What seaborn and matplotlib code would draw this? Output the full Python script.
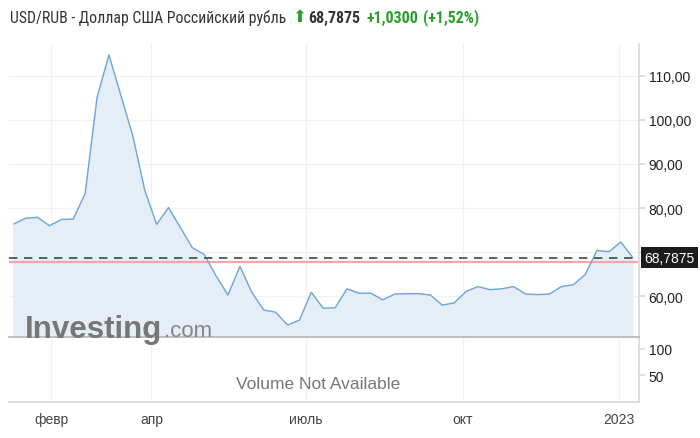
import numpy as np
import pandas as pd
import matplotlib
matplotlib.use('Agg')
import matplotlib.pyplot as plt
import matplotlib.transforms as mtransforms
import seaborn as sns

# weekly USD/RUB closes
dates = pd.date_range('2022-01-10', periods=53, freq='7D')
close = [76.4, 77.7, 77.9, 76.0, 77.4, 77.5, 83.3, 105.1, 114.7, 105.5,
         96.4, 84.1, 76.3, 80.1, 75.6, 71.0, 69.5, 64.6, 60.3, 66.8,
         60.9, 56.9, 56.4, 53.5, 54.6, 60.9, 57.3, 57.4, 61.7, 60.7,
         60.7, 59.2, 60.5, 60.6, 60.6, 60.3, 58.0, 58.5, 61.1, 62.2,
         61.5, 61.7, 62.2, 60.5, 60.4, 60.5, 62.2, 62.6, 64.9, 70.4,
         70.1, 72.3, 68.7875]
last_price = 68.7875
prev_close = 67.7575

price_ticks = [60, 70, 80, 90, 100, 110]
price_labels = ['60,00', '', '80,00', '90,00', '100,00', '110,00']
vol_ticks = [50, 100]
month_ticks = pd.to_datetime(['2022-02-01', '2022-04-01', '2022-07-01', '2022-10-01', '2023-01-01'])
month_labels = ['февр', 'апр', 'июль', 'окт', '2023']

df = pd.DataFrame({'date': dates, 'close': close})

sns.set_theme(style='white')
plt.rcParams['font.family'] = ['Liberation Sans', 'DejaVu Sans']

W, H = 700, 439
fig = plt.figure(figsize=(W / 100, H / 100), dpi=100)
axv = fig.add_axes([9 / W, 1 - 403 / H, 630 / W, 65 / H])
ax = fig.add_axes([9 / W, 1 - 338 / H, 630 / W, 293 / H], sharex=axv)
ax.patch.set_alpha(0)
axv.patch.set_alpha(0)

line_col = '#6fa6d9'
grid_col = '#f1f1f1'
axis_col = '#d9d9d9'
green = '#2a9d2a'

# price area
sns.lineplot(data=df, x='date', y='close', ax=ax, color=line_col, linewidth=1.0, zorder=3)
ax.fill_between(df['date'], df['close'], 0, color='#e5edf6', zorder=1)
ax.axhline(prev_close, color='#f5a6a6', linewidth=1.6, zorder=2)
ax.axhline(last_price, color='#444444', linewidth=1.2, linestyle=(0, (5, 4)), zorder=4)

ax.set_ylim(50.78, 117.18)
ax.set_xlim(dates[0] - pd.Timedelta(days=2.8), dates[-1] + pd.Timedelta(days=3.7))
ax.set_yticks(price_ticks)
ax.set_yticklabels(price_labels)
ax.yaxis.tick_right()
ax.tick_params(axis='y', length=4, color=axis_col, labelsize=10, labelcolor='#222222', pad=3)
ax.tick_params(axis='x', length=0, labelbottom=False)
ax.set_xticks(month_ticks)
ax.grid(True, color=grid_col, linewidth=0.9, zorder=0)
ax.set_xlabel('')
ax.set_ylabel('')
for s in ['top', 'left']:
    ax.spines[s].set_visible(False)
ax.spines['right'].set_color(axis_col)
ax.spines['bottom'].set_color('#b5b5b5')
ax.spines['bottom'].set_linewidth(1.2)

# last price tag
trans = mtransforms.blended_transform_factory(ax.transAxes, ax.transData)
ax.text(1.008, last_price, '68,7875', transform=trans, ha='left', va='center',
        fontsize=10, color='white', zorder=6,
        bbox=dict(boxstyle='square,pad=0.25', facecolor='#1c1c1c', edgecolor='none'))

# watermark
wm = ax.text(16 / 630, 0.0, 'Investing', transform=ax.transAxes, ha='left', va='baseline',
             fontsize=22.5, fontweight='bold', color='#777777', zorder=5, clip_on=False)
ax.annotate('.com', xy=(1, 0), xycoords=wm, xytext=(1, 2.5), textcoords='offset points',
            ha='left', va='bottom', fontsize=16, color='#858585', zorder=5, annotation_clip=False)

# volume panel
axv.set_ylim(0, 122.5)
axv.set_yticks(vol_ticks)
axv.set_yticklabels(['50', '100'])
axv.yaxis.tick_right()
axv.tick_params(axis='y', length=4, color=axis_col, labelsize=10, labelcolor='#222222', pad=3)
axv.set_xticks(month_ticks)
axv.set_xticklabels(month_labels)
axv.tick_params(axis='x', length=4, color=axis_col, labelsize=10, labelcolor='#444444', pad=3)
axv.grid(True, axis='x', color=grid_col, linewidth=0.9)
for s in ['top', 'left']:
    axv.spines[s].set_visible(False)
axv.spines['right'].set_color(axis_col)
axv.spines['bottom'].set_color(axis_col)
axv.text(0.49, 0.28, 'Volume Not Available', transform=axv.transAxes, ha='center', va='center',
         fontsize=12.5, color='#777777')

# header
title_font = ['Roboto Condensed', 'Liberation Sans']
t1 = fig.text(10 / W, 1 - 23 / H, 'USD/RUB - Доллар США Российский рубль', ha='left', va='baseline',
              fontsize=11.3, color='#333333', family=title_font)
arrow = plt.annotate('⬆', xy=(1, 0), xycoords=t1, xytext=(4, 0), textcoords='offset points',
                     ha='left', va='bottom', fontsize=12, color=green, family=['DejaVu Sans'])
price = plt.annotate('68,7875', xy=(1, 0), xycoords=arrow, xytext=(2, 0), textcoords='offset points',
                     ha='left', va='bottom', fontsize=11.5, fontweight='bold', color='#333333', family=title_font)
chg = plt.annotate('+1,0300', xy=(1, 0), xycoords=price, xytext=(4, 0), textcoords='offset points',
                   ha='left', va='bottom', fontsize=11.5, fontweight='bold', color=green, family=title_font)
plt.annotate('(+1,52%)', xy=(1, 0), xycoords=chg, xytext=(4, 0), textcoords='offset points',
             ha='left', va='bottom', fontsize=11.5, fontweight='bold', color=green, family=title_font)

fig.savefig('out.png', dpi=100)
